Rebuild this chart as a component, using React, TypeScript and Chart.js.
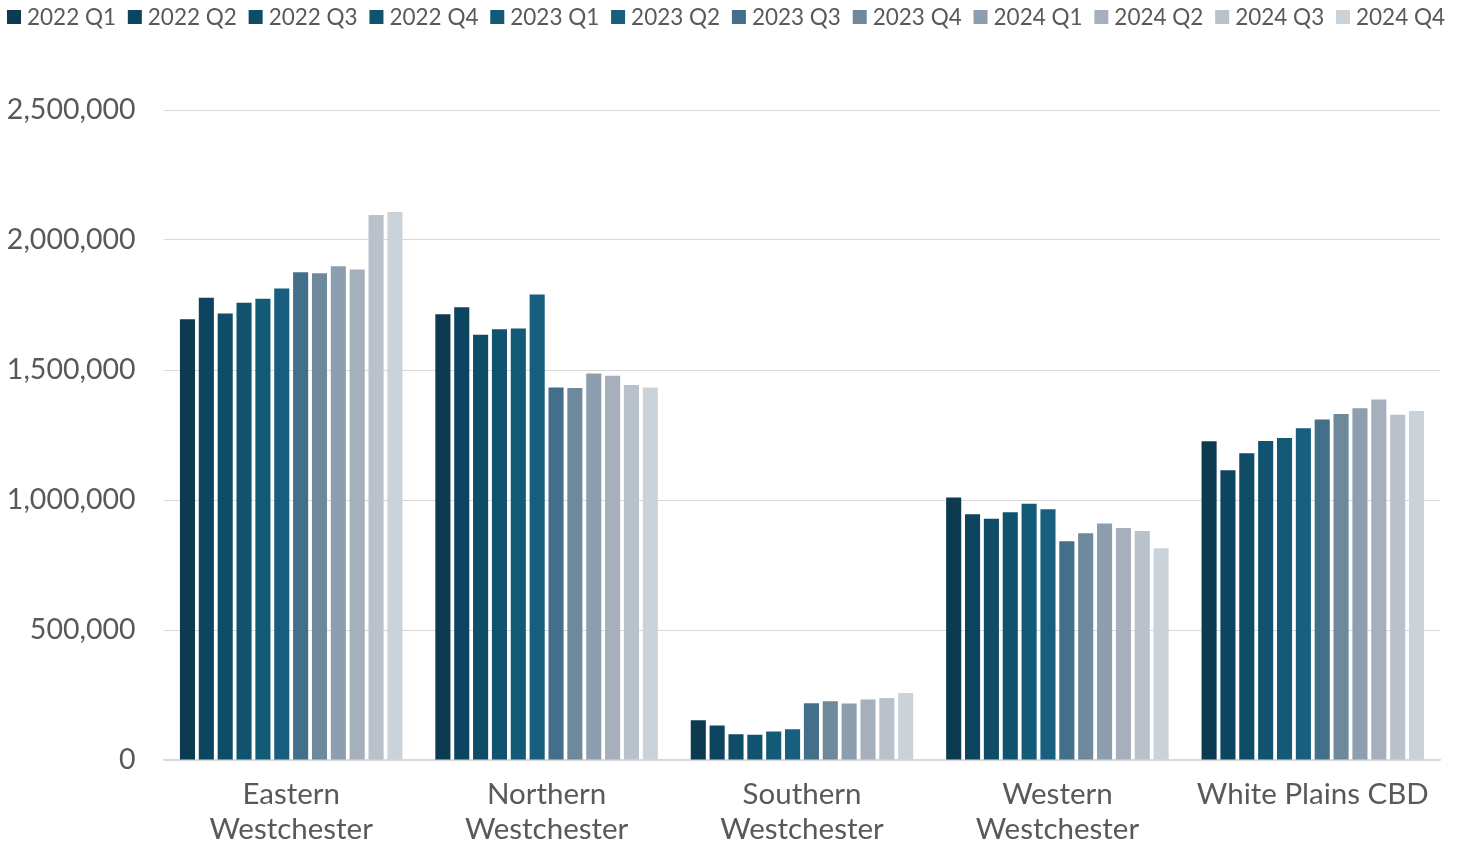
import React, { useEffect, useRef } from "react";
import { Chart, registerables } from "chart.js";

Chart.register(...registerables);

const categories: (string | string[])[] = [
  ["Eastern", "Westchester"],
  ["Northern", "Westchester"],
  ["Southern", "Westchester"],
  ["Western", "Westchester"],
  "White Plains CBD",
];

const quarters = [
  "2022 Q1", "2022 Q2", "2022 Q3", "2022 Q4",
  "2023 Q1", "2023 Q2", "2023 Q3", "2023 Q4",
  "2024 Q1", "2024 Q2", "2024 Q3", "2024 Q4",
];

const quarterColors = [
  "#0c3a51", "#0d4460", "#0f4c66", "#11526e",
  "#135a77", "#175e7f", "#446f8b", "#6e899c",
  "#8d9fae", "#a5b0bc", "#b9c2cb", "#cbd3da",
];

// values per region, one per quarter
const eastern = [1695000, 1778000, 1717000, 1759000, 1774000, 1813000, 1876000, 1872000, 1899000, 1887000, 2096000, 2108000];
const northern = [1714000, 1741000, 1636000, 1657000, 1660000, 1790000, 1433000, 1431000, 1487000, 1478000, 1442000, 1433000];
const southern = [153000, 133000, 99000, 97000, 110000, 118000, 218000, 226000, 217000, 233000, 238000, 258000];
const western = [1010000, 945000, 928000, 953000, 986000, 964000, 841000, 872000, 910000, 892000, 881000, 814000];
const whitePlains = [1226000, 1114000, 1180000, 1227000, 1238000, 1276000, 1310000, 1331000, 1353000, 1387000, 1328000, 1342000];

const regions = [eastern, northern, southern, western, whitePlains];

const yMin = 0;
const yMax = 2500000;
const yStep = 500000;

const TEXT = "#595959";
const FONT = "Lato, 'Open Sans', sans-serif";

const legendPlugin = {
  id: "customLegend",
  afterDraw(chart: any) {
    const ctx = chart.ctx as CanvasRenderingContext2D;
    const items = chart.data.datasets.map((d: any) => ({ text: d.label, color: d.backgroundColor }));
    ctx.save();
    ctx.font = `22.5px ${FONT}`;
    const box = 14;
    const gapBox = 6;
    const widths = items.map((it: any) => box + gapBox + ctx.measureText(it.text).width);
    const sum = widths.reduce((a: number, b: number) => a + b, 0);
    const startX = 7;
    const endX = 1445;
    const gap = (endX - startX - sum) / (items.length - 1);
    let x = startX;
    items.forEach((it: any, i: number) => {
      ctx.fillStyle = it.color;
      ctx.fillRect(x, 10, box, box);
      ctx.fillStyle = TEXT;
      ctx.textBaseline = "alphabetic";
      ctx.textAlign = "left";
      ctx.fillText(it.text, x + box + gapBox, 25);
      x += widths[i] + gap;
    });
    ctx.restore();
  },
};

export default function App() {
  const ref = useRef<HTMLCanvasElement | null>(null);
  useEffect(() => {
    if (!ref.current) return;
    const datasets = quarters.map((q, i) => ({
      label: q,
      data: regions.map((r) => r[i]),
      backgroundColor: quarterColors[i],
      borderWidth: 0,
      categoryPercentage: 0.886,
      barPercentage: 0.8,
    }));
    const chart = new Chart(ref.current, {
      type: "bar",
      data: { labels: categories as any, datasets },
      options: {
        animation: false,
        responsive: true,
        maintainAspectRatio: false,
        layout: { padding: { top: 110, right: 22.5, left: 0, bottom: 0 } },
        plugins: {
          legend: { display: false },
          tooltip: { enabled: false },
        },
        scales: {
          x: {
            grid: { display: false, drawTicks: false },
            border: { display: true, color: "#d9d9d9", width: 1.5 },
            ticks: {
              color: TEXT,
              font: { family: FONT, size: 29.5, lineHeight: 1.19 },
              padding: 17,
              maxRotation: 0,
              autoSkip: false,
            },
            afterFit(scale: any) {
              scale.height = 86;
            },
          },
          y: {
            min: yMin,
            max: yMax,
            grid: { color: "#d9d9d9", lineWidth: 1, drawTicks: false },
            border: { display: false },
            ticks: {
              stepSize: yStep,
              color: TEXT,
              padding: 28,
              font: { family: FONT, size: 28.5 },
              callback: (v: any) => Number(v).toLocaleString("en-US"),
            },
            afterFit(scale: any) {
              scale.width = 163.5;
            },
          },
        },
      },
      plugins: [legendPlugin],
    });
    return () => chart.destroy();
  }, []);
  return (
    <div style={{ position: "fixed", left: 0, top: 0, width: 1463, height: 846, background: "#fff" }}>
      <canvas ref={ref} />
    </div>
  );
}
